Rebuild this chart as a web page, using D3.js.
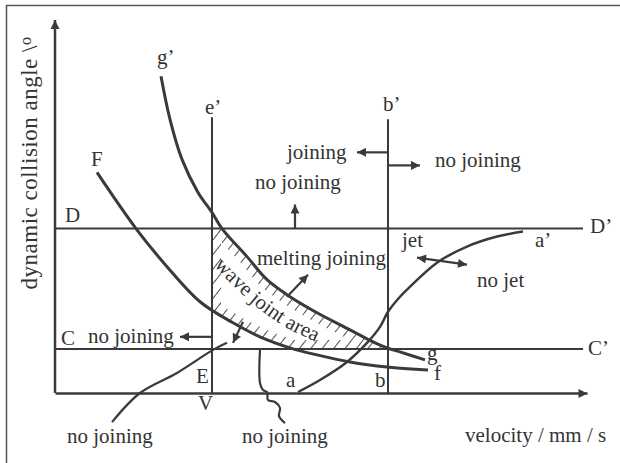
<!DOCTYPE html>
<html>
<head>
<meta charset="utf-8">
<script src="https://cdn.jsdelivr.net/npm/d3@7"></script>
<style>
body { margin: 0; background: #fff; }
</style>
</head>
<body>
<div id="chart"></div>
<script>
// curves (velocity units, angle units)
let curveG = [[26.5,79],[28.75,68.25],[31.75,58.25],[35.75,50],[39.25,45],[41.75,41],[48,34],[53,28.25],[58.75,24],[65.5,20],[73.75,15.75],[79.5,12.75],[83,11.25],[86.25,10.25],[92.5,8.25]];
let curveF = [[10.5,55],[20.25,41],[28,31.5],[36.25,22.75],[44.5,17.5],[51.25,14],[58.75,11.25],[65.5,9.5],[73.75,7.75],[83,6.5],[93.25,5.75]];
let curveA = [[60.75,0.25],[66.25,3.25],[73,7.75],[78,12.5],[81.25,16.5],[83.25,20.25],[86.25,24],[88.75,26.5],[95.5,32.5],[103,36.5],[110.5,39],[117,40.25]];
let curveE = [[14.25,-7.25],[21.25,0],[30.5,5],[39.5,10.75],[43,12.5]];
let wavyLine = [[51.25,10.75],[51.25,2.5],[52,0.75],[53,0.25],[53.25,-1.75],[55,-2.25],[56.25,-3.75],[56,-5.75],[57.5,-7.5]];

// limit lines
let levelD = 41, levelC = 11, lineEnd = 132;
let velE = 39.25, topE = 68.75;
let velB = 83.25, topB = 68.25;

// arrows [from, to, double headed]
let arrows = [
  [[60,41],[60,47],false],
  [[83.25,60],[75.5,60],false],
  [[83.25,56.75],[91.25,56.75],false],
  [[90.5,33.75],[103,32],true],
  [[58,24],[63.25,29.5],false],
  [[39.25,14],[31.25,14],false],
  [[47,17.75],[44.5,12.5],false]
];

let labels = [
  ["D",2.5,42.75],["D\u2019",133.75,40],["C",1.5,12],["C\u2019",133.25,9.5],
  ["F",9,56.5],["g\u2019",25.5,82],["e\u2019",37.5,69.5],["b\u2019",82,70.25],
  ["joining",58,58.25],["no joining",50,50.75],["no joining",95,56.25],
  ["jet",86.75,36.5],["a\u2019",120,36.5],["no jet",105.5,26.5],
  ["melting joining",50.5,32],["no joining",8.25,12.5],
  ["E",35.25,2.5],["V",35.75,-4.25],["a",57.75,1.5],["b",80,1.5],
  ["g",93,8.25],["f",94.75,3.25],
  ["no joining",3,-12.5],["no joining",46.75,-12.5],
  ["velocity / mm / s",102.5,-12.25]
];

let wavePath = [[39.75,31.75],[48.25,23.25],[57.5,16.5],[68.25,11.5]];

let width = 620, height = 463;
let ink = "#3a3a3a";
let serif = "'Liberation Serif', 'Times New Roman', serif";

let x = d3.scaleLinear().domain([0,133]).range([55,587]);
let y = d3.scaleLinear().domain([0,93]).range([393,20]);

let svg = d3.select("#chart").append("svg")
  .attr("width", width)
  .attr("height", height)
  .style("font-family", serif);

let defs = svg.append("defs");

defs.append("marker")
  .attr("id","arr")
  .attr("viewBox","0 0 10 10")
  .attr("refX",10).attr("refY",5)
  .attr("markerWidth",11).attr("markerHeight",9)
  .attr("markerUnits","userSpaceOnUse")
  .attr("orient","auto-start-reverse")
  .append("path").attr("d","M0,0L10,5L0,10z").attr("fill",ink);

let hatch = defs.append("pattern")
  .attr("id","hatch")
  .attr("patternUnits","userSpaceOnUse")
  .attr("width",9).attr("height",9)
  .attr("patternTransform","rotate(38)");
hatch.append("line")
  .attr("x1",0).attr("y1",0).attr("x2",0).attr("y2",9)
  .attr("stroke",ink).attr("stroke-width",1.8);

let line = d3.line()
  .x(d => x(d[0]))
  .y(d => y(d[1]))
  .curve(d3.curveCatmullRom.alpha(0.5));

// wave joint area: below g, above F and C, under D, right of e'
defs.append("clipPath").attr("id","underG")
  .append("path")
  .attr("d", d3.area().x(d => x(d[0])).y0(y(levelC)).y1(d => y(d[1])).curve(d3.curveCatmullRom.alpha(0.5))(curveG));
defs.append("clipPath").attr("id","overF")
  .append("path")
  .attr("d", d3.area().x(d => x(d[0])).y0(d => y(d[1])).y1(y(levelD)).curve(d3.curveCatmullRom.alpha(0.5))(curveF));
defs.append("clipPath").attr("id","box")
  .append("rect")
  .attr("x",x(velE)).attr("y",y(levelD))
  .attr("width",x(velB)-x(velE)).attr("height",y(levelC)-y(levelD));

// hatch only in a band along the edges of the area
let band = defs.append("mask").attr("id","band")
  .attr("maskUnits","userSpaceOnUse")
  .attr("x",0).attr("y",0).attr("width",width).attr("height",height);
band.append("rect").attr("width",width).attr("height",height).attr("fill","#000");
[curveG, curveF].forEach(c => {
  band.append("path").attr("d",line(c)).attr("fill","none")
    .attr("stroke","#fff").attr("stroke-width",18);
});
band.append("line")
  .attr("x1",x(velE)).attr("x2",x(velE)).attr("y1",y(levelD)).attr("y2",y(levelC))
  .attr("stroke","#fff").attr("stroke-width",18);
band.append("line")
  .attr("x1",x(velE)).attr("x2",x(velB)).attr("y1",y(levelC)).attr("y2",y(levelC))
  .attr("stroke","#fff").attr("stroke-width",18);

// frame
svg.append("rect")
  .attr("x",6.5).attr("y",5.5)
  .attr("width",width).attr("height",height)
  .attr("fill","none").attr("stroke","#555").attr("stroke-width",1.5);

svg.append("g").attr("clip-path","url(#underG)")
  .append("g").attr("clip-path","url(#overF)")
  .append("g").attr("clip-path","url(#box)")
  .append("rect")
  .attr("x",x(velE)).attr("y",y(levelD))
  .attr("width",x(velB)-x(velE)).attr("height",y(levelC)-y(levelD))
  .attr("fill","url(#hatch)")
  .attr("mask","url(#band)");

// horizontal limits D-D' and C-C'
svg.selectAll(".level")
  .data([levelD, levelC])
  .enter().append("line")
  .attr("class","level")
  .attr("x1",x(0)).attr("x2",x(lineEnd))
  .attr("y1",d => y(d)).attr("y2",d => y(d))
  .attr("stroke",ink).attr("stroke-width",2);

// vertical limits e' and b'
svg.selectAll(".vlim")
  .data([[velE,topE],[velB,topB]])
  .enter().append("line")
  .attr("class","vlim")
  .attr("x1",d => x(d[0])).attr("x2",d => x(d[0]))
  .attr("y1",d => y(d[1])).attr("y2",y(0))
  .attr("stroke",ink).attr("stroke-width",2);

// curves
svg.selectAll(".curve")
  .data([[curveG,3],[curveF,3],[curveA,2.5],[curveE,2.2],[wavyLine,2.2]])
  .enter().append("path")
  .attr("class","curve")
  .attr("d",d => line(d[0]))
  .attr("fill","none")
  .attr("stroke",ink)
  .attr("stroke-width",d => d[1]);

// arrows
svg.selectAll(".arrow")
  .data(arrows)
  .enter().append("line")
  .attr("class","arrow")
  .attr("x1",d => x(d[0][0])).attr("y1",d => y(d[0][1]))
  .attr("x2",d => x(d[1][0])).attr("y2",d => y(d[1][1]))
  .attr("stroke",ink).attr("stroke-width",2.2)
  .attr("marker-end","url(#arr)")
  .attr("marker-start",d => d[2] ? "url(#arr)" : null);

// axes, only the domain lines with arrow tips
let xAxis = svg.append("g")
  .attr("transform","translate(0," + y(0) + ")")
  .call(d3.axisBottom(x).tickValues([]).tickSizeOuter(0));
let yAxis = svg.append("g")
  .attr("transform","translate(" + x(0) + ",0)")
  .call(d3.axisLeft(y).tickValues([]).tickSizeOuter(0));
svg.selectAll(".domain")
  .attr("stroke",ink).attr("stroke-width",2.5)
  .attr("marker-end","url(#arr)");
yAxis.select(".domain")
  .attr("d","M0," + y(0) + "V" + y(93));

// labels
svg.selectAll(".lab")
  .data(labels)
  .enter().append("text")
  .attr("class","lab")
  .attr("x",d => x(d[1]))
  .attr("y",d => y(d[2]))
  .attr("font-family",serif)
  .attr("font-size",21)
  .attr("fill","#333")
  .text(d => d[0]);

defs.append("path").attr("id","wavePath").attr("d",line(wavePath));
svg.append("text")
  .attr("font-family",serif)
  .attr("font-size",21)
  .attr("fill","#333")
  .append("textPath")
  .attr("href","#wavePath")
  .text("wave joint area");

let yl = svg.append("text")
  .attr("transform","translate(37,163) rotate(-90)")
  .attr("text-anchor","middle")
  .attr("font-family",serif)
  .attr("font-size",23)
  .attr("letter-spacing",0.5)
  .attr("fill","#333");
yl.append("tspan").text("dynamic collision angle \\");
yl.append("tspan").attr("dy",-6).attr("font-size",16).text("o");
</script>
</body>
</html>
